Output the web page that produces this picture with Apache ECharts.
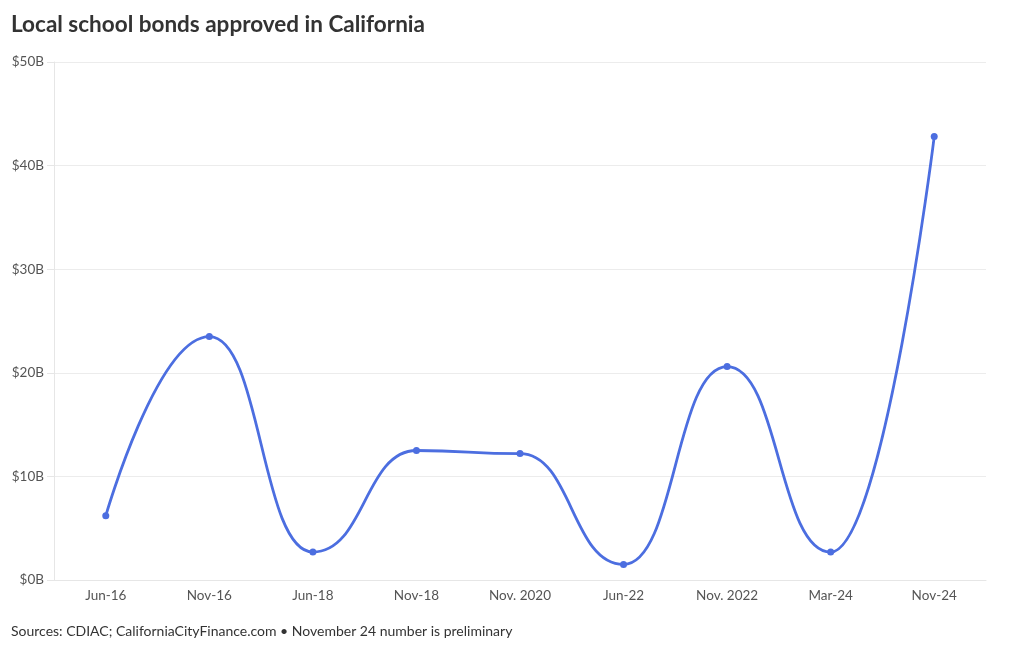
<!DOCTYPE html>
<html><head><meta charset="utf-8">
<script src="https://cdn.jsdelivr.net/npm/echarts@6/dist/echarts.min.js"></script>
<style>html,body{margin:0;padding:0;background:#fff}#c{width:1020px;height:650px}</style>
</head><body><div id="c"></div>
<script>
const categories = ['Jun-16','Nov-16','Jun-18','Nov-18','Nov. 2020','Jun-22','Nov. 2022','Mar-24','Nov-24'];
const bondsBillions = [6.2, 23.5, 2.7, 12.5, 12.2, 1.5, 20.6, 2.7, 42.8];
const yTicks = [0, 10, 20, 30, 40, 50];
const titleText = 'Local school bonds approved in California';
const footerText = 'Sources: CDIAC; CaliforniaCityFinance.com \u2022 November 24 number is preliminary';

const chart = echarts.init(document.getElementById('c'), null, {renderer:'canvas'});
chart.setOption({
  animation:false,
  backgroundColor:'#fff',
  textStyle:{fontFamily:'Lato'},
  title:[{text:titleText,left:6,top:8,textStyle:{fontFamily:'Lato',fontWeight:'bold',fontSize:22.5,color:'#333'}},
         {text:footerText,left:6,top:619,textStyle:{fontFamily:'Lato',fontWeight:'normal',fontSize:14,color:'#333'}}],
  grid:{left:54,right:34,top:62,bottom:70,containLabel:false},
  xAxis:{type:'category',data:categories,boundaryGap:true,
    axisLine:{lineStyle:{color:'#e6e6e6'}},
    axisTick:{alignWithLabel:true,length:6,lineStyle:{color:'#e6e6e6'}},
    axisLabel:{color:'#555',fontSize:13.5,margin:9,fontFamily:'Lato'}},
  yAxis:{type:'value',min:yTicks[0],max:yTicks[yTicks.length-1],interval:10,
    axisLine:{show:true,lineStyle:{color:'#e6e6e6'}},
    axisTick:{show:true,length:7,lineStyle:{color:'#e6e6e6'}},
    splitLine:{lineStyle:{color:'#ececec'}},
    axisLabel:{color:'#555',fontSize:13.5,margin:10,fontFamily:'Lato',formatter:v=>'$'+v+'B'}},
  series:[{type:'line',data:bondsBillions,smooth:0.5,smoothMonotone:'x',
    symbol:'circle',symbolSize:7,showSymbol:true,
    lineStyle:{color:'#4c6ee0',width:2.8},itemStyle:{color:'#4c6ee0'}}]
});
</script></body></html>
